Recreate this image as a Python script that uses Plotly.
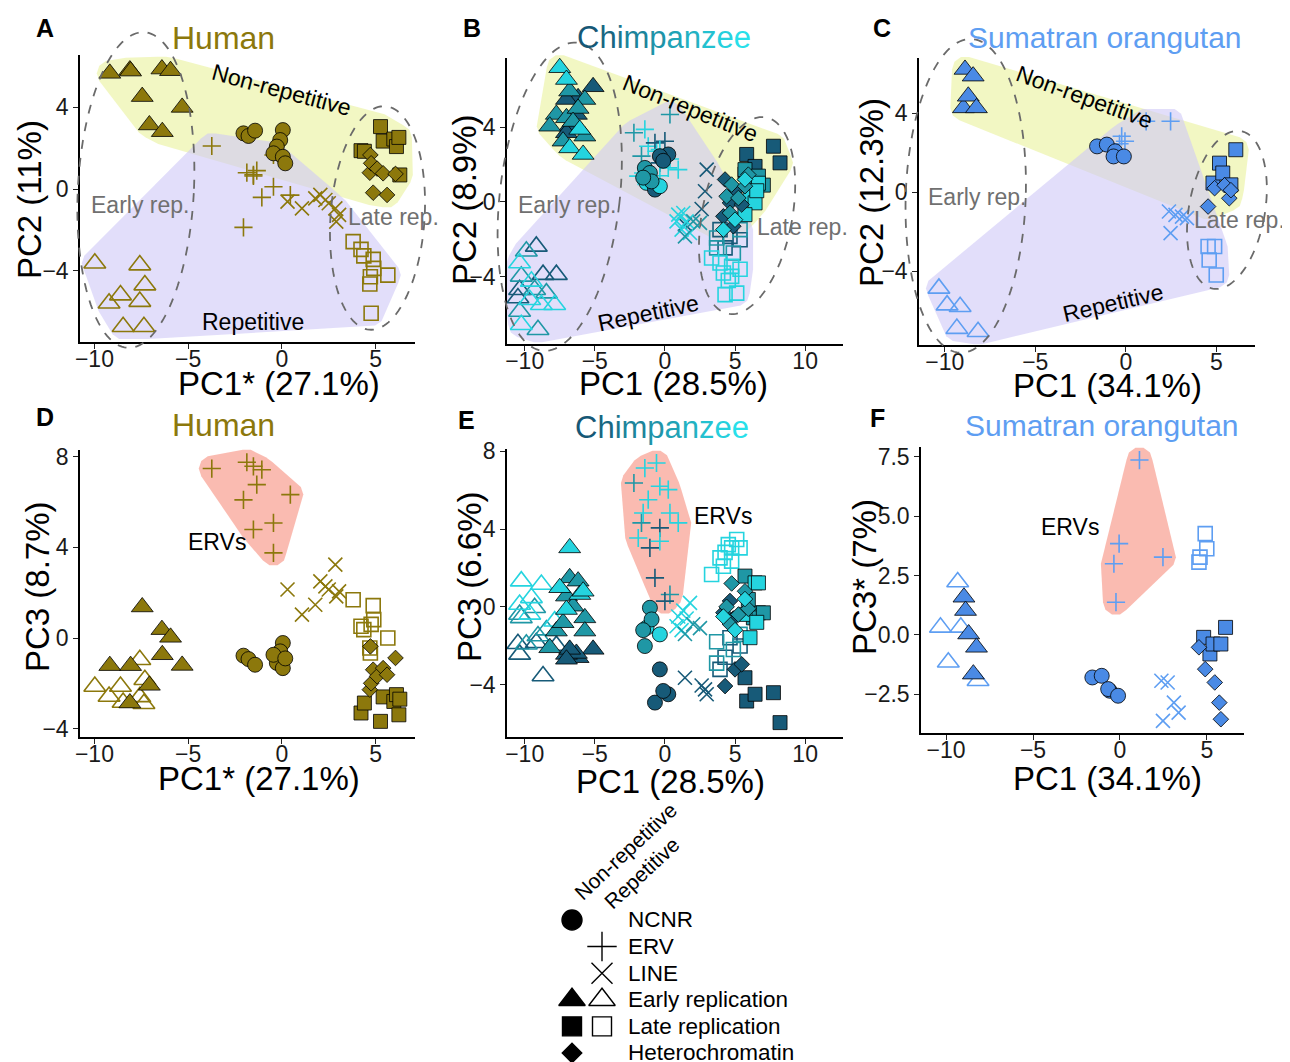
import numpy as np
import plotly.graph_objects as go

W, H = 1290, 1062
OFF = 8  # page body margin: screen px = paper px + 8
FONT = "Liberation Sans, Arial, sans-serif"

# ======================= DATA =======================
# ---- Human (PC1*, PC2, PC3) ----
hum_etri_pc1 = [-9.18, -8.11, -8.07, -7.45, -7.07, -6.40, -6.38, -5.94, -5.32]
hum_etri_pc2 = [5.67, 5.83, 5.78, 4.53, 3.14, 5.88, 2.81, 5.80, 4.00]
hum_etri_pc3 = [-1.22, -2.87, -1.22, 1.37, -2.09, 0.37, -0.74, 0.03, -1.21]
hum_erep_pc1 = [-9.98, -7.58, -7.31, -8.61, -9.22, -7.58, -8.47, -7.36]
hum_erep_pc2 = [-3.64, -3.73, -4.71, -5.20, -5.60, -5.52, -6.75, -6.75]
hum_erep_pc3 = [-2.14, -0.96, -1.84, -2.14, -2.58, -2.60, -2.85, -2.90]
hum_ncnr_pc1 = [-2.05, -1.78, -1.43, 0.05, -0.09, -0.27, -0.45, 0.05, 0.18]
hum_ncnr_pc2 = [2.73, 2.60, 2.86, 2.89, 2.40, 2.08, 1.75, 1.58, 1.26]
hum_ncnr_pc3 = [-0.78, -0.93, -1.18, -0.22, -0.59, -1.10, -0.74, -1.33, -0.90]
hum_erv_pc1 = [-3.74, -2.05, -1.87, -1.52, -1.52, -1.34, -1.07, -0.45, -0.45, 0.45]
hum_erv_pc2 = [2.11, -1.88, 0.80, 0.70, 0.64, 0.90, -0.41, 1.67, 0.11, -0.30]
hum_erv_pc3 = [7.48, 6.10, 7.76, 7.58, 4.79, 6.77, 7.43, 5.08, 3.76, 6.33]
hum_line_pc1 = [0.30, 1.07, 1.78, 2.05, 2.32, 2.50, 2.85, 2.90, 3.05]
hum_line_pc2 = [-0.62, -0.95, -0.46, -0.29, -0.54, -0.70, -0.95, -1.60, -1.27]
hum_line_pc3 = [2.14, 1.03, 1.47, 2.50, 2.28, 2.14, 3.24, 1.84, 2.06]
hum_lnr_pc1 = [4.22, 4.40, 5.26, 5.40, 5.97, 6.11, 6.24, 6.29]
hum_lnr_pc2 = [1.88, 1.85, 3.06, 2.35, 2.45, 2.08, 2.53, 0.69]
hum_lnr_pc3 = [-3.31, -2.87, -3.68, -2.60, -2.80, -2.50, -3.39, -2.70]
hum_het_pc1 = [4.69, 4.72, 4.76, 4.87, 5.08, 5.40, 5.61, 6.06]
hum_het_pc2 = [0.80, 1.67, 1.26, -0.18, 1.00, 0.77, -0.29, 0.74]
hum_het_pc3 = [-2.28, -0.37, -2.00, -1.40, -1.69, -1.33, -1.62, -0.88]
hum_lrep_pc1 = [3.80, 4.22, 4.37, 4.87, 4.90, 4.72, 5.65, 4.69, 4.76]
hum_lrep_pc2 = [-2.58, -2.96, -3.28, -3.45, -3.89, -4.30, -4.22, -4.66, -6.09]
hum_lrep_pc3 = [1.69, 0.52, 0.37, 1.43, 0.81, -0.66, 0.00, -0.44, 0.60]

# ---- Chimpanzee (PC1, PC2, PC3, individual 0/1/2) ----
chi_etri_pc1 = [-5.12, -6.19, -7.02, -6.31, -6.79, -7.02, -6.79, -5.71, -7.74, -7.02, -8.21, -5.71, -7.26, -6.19, -6.55, -7.50, -7.02, -6.07, -6.79, -5.83]
chi_etri_pc2 = [6.16, 5.57, 5.48, 4.68, 4.05, 3.70, 5.93, 5.48, 4.68, 4.50, 4.05, 3.52, 3.25, 5.00, 4.30, 7.18, 6.55, 3.88, 2.89, 2.54]
chi_etri_pc3 = [-2.19, -2.62, -2.45, -2.40, -2.19, -2.70, 1.49, -0.57, -1.25, 0.55, -2.11, -1.25, -0.82, 1.32, 0.03, 0.98, -0.14, 0.63, 3.03, 0.80]
chi_etri_ind = [0, 0, 0, 0, 0, 0, 1, 1, 1, 1, 1, 1, 1, 1, 1, 2, 2, 2, 2, 2]
chi_erep_pc1 = [-9.17, -8.69, -7.74, -10.36, -10.48, -9.88, -10.24, -9.29, -8.45, -10.36, -9.05, -10.36, -9.52, -9.64, -7.86, -8.81, -10.24]
chi_erep_pc2 = [-2.38, -3.89, -3.89, -4.70, -5.14, -2.64, -3.98, -4.70, -4.88, -5.86, -6.84, -3.27, -4.25, -5.23, -5.50, -5.50, -6.57]
chi_erep_pc3 = [-1.85, -3.56, -2.00, -2.45, -1.90, -1.93, -0.57, -0.05, -1.20, -0.40, -1.50, 0.12, 0.46, -0.39, -0.74, 1.15, 1.32]
chi_erep_ind = [0, 0, 0, 0, 0, 1, 1, 1, 1, 1, 1, 2, 2, 2, 2, 2, 2]
chi_ncnr_pc1 = [0.24, -0.36, -1.43, -1.07, -1.31, -0.71, -0.36, -0.95, -1.55, -0.12]
chi_ncnr_pc2 = [2.54, 2.45, 1.82, 1.55, 1.02, 0.66, 0.84, 1.10, 1.30, 2.20]
chi_ncnr_pc3 = [-4.50, -3.22, -2.02, -0.05, -1.08, -4.93, -1.42, -0.65, -1.20, -4.33]
chi_ncnr_ind = [0, 0, 1, 1, 2, 0, 2, 1, 1, 0]
chi_erv_pc1 = [-1.43, -2.21, 0.36, 0.00, -1.19, -0.60, -1.67, -1.55, 0.24, 0.95, -0.36, -1.90, -1.07, -0.71, 0.36, -0.36, -0.36]
chi_erv_pc2 = [3.88, 3.70, 4.68, 3.25, 2.98, 2.71, 2.45, 1.55, 1.82, 1.73, 2.09, 1.38, 1.11, 3.16, 2.30, 1.40, 2.80]
chi_erv_pc3 = [7.14, 6.37, 0.63, 0.29, 5.51, 7.40, 4.32, 4.83, 6.03, 4.32, 4.06, 3.54, 3.03, 1.49, 4.83, 3.37, 6.20]
chi_erv_ind = [2, 1, 1, 0, 2, 2, 1, 2, 2, 2, 0, 2, 0, 0, 2, 2, 2]
chi_line_pc1 = [2.98, 2.86, 2.62, 1.43, 0.95, 1.31, 0.83, 1.55, 1.19, 1.79, 1.43, 2.02, 2.50]
chi_line_pc2 = [1.73, 0.57, -0.38, -1.20, -0.68, -0.59, -1.04, -1.04, -1.48, -1.66, -1.84, -1.04, -1.12]
chi_line_pc3 = [-4.50, -4.25, -4.05, -3.65, -0.50, -0.20, -1.00, -0.60, -1.20, 0.20, -1.40, -0.90, -1.10]
chi_line_ind = [0, 0, 0, 0, 2, 2, 2, 2, 2, 2, 1, 1, 1]
chi_lnr_pc1 = [5.83, 7.74, 8.21, 5.71, 6.43, 5.71, 6.67, 5.95, 6.31, 7.02, 6.07, 6.43, 5.71, 6.67, 6.55]
chi_lnr_pc2 = [2.54, 2.98, 2.09, 1.50, 1.90, 1.73, 1.38, 0.93, 0.20, 0.90, 0.30, -0.05, -0.68, 1.00, 0.60]
chi_lnr_pc3 = [-4.85, -4.42, -5.96, -3.65, -4.50, 1.58, -0.31, 0.38, -0.57, -0.31, -1.59, 1.23, -0.39, 1.23, -0.80]
chi_lnr_ind = [0, 0, 0, 0, 0, 1, 1, 1, 1, 1, 2, 2, 2, 2, 2]
chi_het_pc1 = [4.29, 5.00, 4.64, 5.48, 4.17, 4.88, 4.76, 4.40, 5.24, 5.71, 5.95, 4.64, 4.17, 5.00, 5.71]
chi_het_pc2 = [1.20, 0.57, -0.05, -0.14, -0.77, -1.30, 0.93, 0.30, 0.21, 0.84, 1.46, -0.59, -1.48, -0.95, 1.20]
chi_het_pc3 = [-4.08, -3.22, 0.30, -2.96, -0.30, -0.60, 1.20, 0.00, -0.40, 0.80, -0.10, -0.90, -0.50, -1.20, 0.40]
chi_het_ind = [0, 0, 0, 0, 0, 0, 1, 1, 1, 1, 1, 1, 2, 2, 2]
chi_lrep_pc1 = [3.93, 4.64, 5.36, 4.29, 3.69, 4.88, 5.36, 3.69, 3.33, 3.93, 4.76, 4.17, 4.76, 4.29, 5.12, 4.52, 5.36]
chi_lrep_pc2 = [-1.48, -1.84, -2.02, -2.46, -1.93, -2.73, -1.48, -2.46, -3.00, -3.27, -3.45, -3.80, -3.98, -4.96, -4.88, -4.20, -3.60]
chi_lrep_pc3 = [-3.22, -1.59, -2.02, -2.60, -1.80, -2.20, -1.42, -2.90, 1.66, 2.52, 3.03, 2.09, 2.35, 2.80, 3.46, 3.20, 3.03]
chi_lrep_ind = [0, 0, 0, 0, 1, 1, 1, 1, 2, 2, 2, 2, 2, 2, 2, 2, 2]

# ---- Sumatran orangutan (PC1, PC2, PC3*) ----
ora_etri_pc1 = [-8.97, -8.88, -8.70, -8.43, -8.25]
ora_etri_pc2 = [4.27, 6.22, 4.86, 5.88, 4.27]
ora_etri_pc3 = [1.59, 1.03, 0.04, -1.65, -0.52]
ora_erep_pc1 = [-10.32, -9.87, -9.15, -9.33, -8.16]
ora_erep_pc2 = [-4.88, -5.73, -5.81, -6.92, -7.08]
ora_erep_pc3 = [0.32, -1.15, 0.32, 2.23, -1.93]
ora_ncnr_pc1 = [-1.59, -1.05, -0.59, -0.68, -0.11]
ora_ncnr_pc2 = [2.32, 2.41, 2.07, 1.81, 1.81]
ora_ncnr_pc3 = [-1.79, -1.72, -2.35, -2.28, -2.56]
ora_erv_pc1 = [-0.35, -0.23, -0.05, 1.12, 2.47]
ora_erv_pc2 = [2.45, 2.83, 2.58, 3.59, 3.59]
ora_erv_pc3 = [3.00, 1.38, 3.85, 7.37, 3.28]
ora_line_pc1 = [2.38, 2.74, 3.10, 3.37, 2.47]
ora_line_pc2 = [-0.98, -1.15, -1.24, -1.32, -2.08]
ora_line_pc3 = [-1.93, -2.00, -2.85, -3.27, -3.62]
ora_lnr_pc1 = [4.81, 5.17, 5.35, 5.80, 6.07]
ora_lnr_pc2 = [0.46, 1.47, 0.97, 0.37, 2.15]
ora_lnr_pc3 = [-0.10, -0.80, -0.38, -0.38, 0.32]
ora_het_pc1 = [4.54, 4.90, 5.45, 5.71, 5.80]
ora_het_pc2 = [-0.73, 0.20, 0.35, -0.31, 0.10]
ora_het_pc3 = [-0.52, -1.44, -2.00, -2.85, -3.55]
ora_lrep_pc1 = [4.54, 4.90, 4.60, 4.99]
ora_lrep_pc2 = [-2.76, -2.76, -3.44, -4.20]
ora_lrep_pc3 = [3.07, 4.27, 3.28, 3.63]

# legend
legend_labels = ["NCNR", "ERV", "LINE", "Early replication", "Late replication", "Heterochromatin"]
legend_headers = ["Non-repetitive", "Repetitive"]

# ======================= STYLE / LAYOUT =======================
HUM = "#8C780C"
ORA_FILL = "#4A8AE5"
ORA_LINE = "#5E9EF2"
CHI = ["#175A78", "#1F97A5", "#25D4DF"]
YEL = "rgba(229,239,135,0.5)"
LAV = "rgba(207,200,247,0.6)"
ERVC = "rgba(245,125,105,0.52)"

# panel boxes in screen pixels (left, right), (top, bottom)
P = {
    "A": dict(ax="", xpx=(80, 415), ypx=(55, 342), xr=(-10.77, 7.1), yr=(-7.5, 6.57),
              xt=[-10, -5, 0, 5], yt=[-4, 0, 4]),
    "B": dict(ax="2", xpx=(507, 843), ypx=(58, 344), xr=(-11.26, 12.7), yr=(-7.6, 7.7),
              xt=[-10, -5, 0, 5, 10], yt=[-4, 0, 4]),
    "C": dict(ax="3", xpx=(919, 1255), ypx=(58, 345), xr=(-11.42, 7.13), yr=(-7.75, 6.8),
              xt=[-10, -5, 0, 5], yt=[-4, 0, 4]),
    "D": dict(ax="4", xpx=(80, 415), ypx=(450, 737), xr=(-10.77, 7.1), yr=(-4.37, 8.3),
              xt=[-10, -5, 0, 5], yt=[-4, 0, 4, 8]),
    "E": dict(ax="5", xpx=(507, 843), ypx=(449, 737), xr=(-11.26, 12.7), yr=(-6.7, 8.12),
              xt=[-10, -5, 0, 5, 10], yt=[-4, 0, 4, 8]),
    "F": dict(ax="6", xpx=(921, 1244), ypx=(447, 733), xr=(-11.44, 7.13), yr=(-4.13, 7.92),
              xt=[-10, -5, 0, 5], yt=[-2.5, 0, 2.5, 5, 7.5], yfmt=".1f"),
}


def pxX(xs):
    return (xs - OFF) / W


def pxY(ys):
    return 1 - (ys - OFF) / H


def px_of(p, x, y):
    (x0, x1), (y0, y1) = p["xr"], p["yr"]
    (l, r), (t, b) = p["xpx"], p["ypx"]
    X = l + (np.asarray(x, float) - x0) / (x1 - x0) * (r - l)
    Y = b - (np.asarray(y, float) - y0) / (y1 - y0) * (b - t)
    return X, Y


def to_path(X, Y):
    return "M " + " L ".join(f"{pxX(x):.5f},{pxY(y):.5f}" for x, y in zip(X, Y)) + " Z"


def convex_hull(pts):
    pts = sorted(set(pts))

    def cross(o, a, b):
        return (a[0] - o[0]) * (b[1] - o[1]) - (a[1] - o[1]) * (b[0] - o[0])

    lower, upper = [], []
    for q in pts:
        while len(lower) >= 2 and cross(lower[-2], lower[-1], q) <= 0:
            lower.pop()
        lower.append(q)
    for q in reversed(pts):
        while len(upper) >= 2 and cross(upper[-2], upper[-1], q) <= 0:
            upper.pop()
        upper.append(q)
    return lower[:-1] + upper[:-1]


def hull_shape(p, xs, ys, color, pad=13):
    X, Y = px_of(p, xs, ys)
    ang = np.linspace(0, 2 * np.pi, 10, endpoint=False)
    pts = [(round(float(x + pad * np.cos(a)), 3), round(float(y + pad * np.sin(a)), 3))
           for x, y in zip(X, Y) for a in ang]
    h = convex_hull(pts)
    hx, hy = zip(*h)
    return dict(type="path", xref="paper", yref="paper", path=to_path(hx, hy),
                fillcolor=color, line=dict(width=0), layer="below")


def ellipse_shape(p, cx, cy, a, b, theta):
    X0, Y0 = px_of(p, [cx], [cy])
    t = np.linspace(0, 2 * np.pi, 140)
    u, v = a * np.cos(t), b * np.sin(t)
    th = np.radians(theta)
    X = X0[0] + u * np.cos(th) - v * np.sin(th)
    Y = Y0[0] + u * np.sin(th) + v * np.cos(th)
    return dict(type="path", xref="paper", yref="paper", path=to_path(X, Y),
                line=dict(color="#6a6a6a", width=1.8, dash="dash"),
                fillcolor="rgba(0,0,0,0)", layer="above")


fig = go.Figure()
shapes = []
annotations = []


def paper_text(text, xp, yp, size, color="black", angle=0, bold=False):
    annotations.append(dict(text=f"<b>{text}</b>" if bold else text, x=pxX(xp), y=pxY(yp),
                            xref="paper", yref="paper", xanchor="center", yanchor="middle",
                            showarrow=False, textangle=angle,
                            font=dict(size=size, color=color, family=FONT)))


# key, symbol, filled, size, repetitive?
GROUPS = [
    ("erep", "triangle-up-open", False, 19, True),
    ("lrep", "square-open", False, 14, True),
    ("erv", "cross-thin-open", False, 13, True),
    ("line", "x-thin-open", False, 14, True),
    ("etri", "triangle-up", True, 19, False),
    ("ncnr", "circle", True, 15, False),
    ("lnr", "square", True, 14, False),
    ("het", "diamond", True, 12, False),
]

species = [("hum", "A", "D"), ("chi", "B", "E"), ("ora", "C", "F")]

g = globals()
for sp, top, bot in species:
    nonrep_x, nonrep_y, rep_x, rep_y = [], [], [], []
    for key, sym, filled, size, rep in GROUPS:
        pc1 = g[f"{sp}_{key}_pc1"]
        pc2 = g[f"{sp}_{key}_pc2"]
        pc3 = g[f"{sp}_{key}_pc3"]
        if rep:
            rep_x += pc1
            rep_y += pc2
        else:
            nonrep_x += pc1
            nonrep_y += pc2
        if sp == "chi":
            ind = g[f"chi_{key}_ind"]
            fcol = [CHI[i] for i in ind]
            lcol = fcol
        elif sp == "hum":
            fcol = lcol = HUM
        else:
            fcol, lcol = ORA_FILL, ORA_LINE
        if filled:
            marker = dict(symbol=sym, size=size, color=fcol,
                          line=dict(color="black", width=0.8))
        else:
            marker = dict(symbol=sym, size=size, color=lcol,
                          line=dict(color=lcol, width=1.6))
        for pan, yy in ((top, pc2), (bot, pc3)):
            ax = P[pan]["ax"]
            fig.add_trace(go.Scatter(x=pc1, y=yy, mode="markers", marker=marker,
                                     xaxis="x" + ax, yaxis="y" + ax,
                                     cliponaxis=False, hoverinfo="skip",
                                     showlegend=False))
    shapes.append(hull_shape(P[top], nonrep_x, nonrep_y, YEL))
    shapes.append(hull_shape(P[top], rep_x, rep_y, LAV))
    shapes.append(hull_shape(P[bot], g[f"{sp}_erv_pc1"], g[f"{sp}_erv_pc3"], ERVC))

# dashed replication ellipses (center in data, semi-axes px, tilt deg)
ELL = [
    ("A", -7.79, -0.05, 58, 158, 3), ("A", 5.10, -1.42, 47, 112, 4),
    ("B", -7.50, 0.28, 60, 155, 6.5), ("B", 5.86, -0.73, 45, 100, 11),
    ("C", -8.84, -0.19, 60, 157, 2), ("C", 5.58, -0.90, 38, 80, 10),
]
for pan, cx, cy, a, b, th in ELL:
    shapes.append(ellipse_shape(P[pan], cx, cy, a, b, th))

# in-panel labels
GRAY = "#707070"
LABELS = [
    ("A", "Non-repetitive", 0.0, 4.85, 15, "black"), ("A", "Repetitive", -1.52, -6.52, 0, "black"),
    ("A", "Early rep.", -7.57, -0.78, 0, GRAY), ("A", "Late rep.", 5.96, -1.37, 0, GRAY),
    ("B", "Non-repetitive", 1.79, 5.04, 22, "black"), ("B", "Repetitive", -1.21, -5.92, -12, "black"),
    ("B", "Early rep.", -7.0, -0.14, 0, GRAY), ("B", "Late rep.", 9.79, -1.32, 0, GRAY),
    ("C", "Non-repetitive", -2.27, 4.84, 20, "black"), ("C", "Repetitive", -0.72, -5.63, -13, "black"),
    ("C", "Early rep.", -8.23, -0.24, 0, GRAY), ("C", "Late rep.", 6.30, -1.41, 0, GRAY),
    ("D", "ERVs", -3.46, 4.26, 0, "black"), ("E", "ERVs", 4.14, 4.68, 0, "black"),
    ("F", "ERVs", -2.89, 4.53, 0, "black"),
]
for pan, txt, x, y, ang, col in LABELS:
    ax = P[pan]["ax"]
    annotations.append(dict(text=txt, x=x, y=y, xref="x" + ax, yref="y" + ax,
                            xanchor="center", yanchor="middle",
                            showarrow=False, textangle=ang,
                            font=dict(size=23, color=col, family=FONT)))

c0, c1 = np.array([22, 88, 118]), np.array([40, 224, 234])
chimp_txt = ""
for i, ch in enumerate("Chimpanzee"):
    c = (c0 + (c1 - c0) * i / 9).astype(int)
    chimp_txt += f'<span style="color:rgb({c[0]},{c[1]},{c[2]})">{ch}</span>'

TITLES = [
    ("Human", HUM, 223, 38, 32), (chimp_txt, "#1F97A5", 664, 38, 31),
    ("Sumatran orangutan", "#5E9EF2", 1105, 38, 30),
    ("Human", HUM, 223, 425, 32), (chimp_txt, "#1F97A5", 662, 427, 31),
    ("Sumatran orangutan", "#5E9EF2", 1102, 425, 30),
]
for txt, col, xp, yp, fs in TITLES:
    paper_text(txt, xp, yp, fs, col)

LETTERS = [("A", 45, 28), ("B", 472, 28), ("C", 882, 28), ("D", 45, 417), ("E", 466, 420), ("F", 877, 418)]
for t, xp, yp in LETTERS:
    paper_text(t, xp, yp, 25, bold=True)

AXT = [
    ("PC1* (27.1%)", 279, 384, 0), ("PC2 (11%)", 29, 200, -90),
    ("PC1 (28.5%)", 673, 384, 0), ("PC2 (8.9%)", 464, 200, -90),
    ("PC1 (34.1%)", 1107, 386, 0), ("PC2 (12.3%)", 871, 193, -90),
    ("PC1* (27.1%)", 259, 778, 0), ("PC3 (8.7%)", 37, 587, -90),
    ("PC1 (28.5%)", 670, 781, 0), ("PC3 (6.6%)", 469, 577, -90),
    ("PC1 (34.1%)", 1107, 778, 0), ("PC3* (7%)", 864, 577, -90),
]
for t, xp, yp, ang in AXT:
    paper_text(t, xp, yp, 33, angle=ang)

# axes
layout = dict()
for pan, p in P.items():
    ax = p["ax"]
    (l, r), (t, b) = p["xpx"], p["ypx"]
    common = dict(showline=True, linecolor="black", linewidth=1.5, ticks="outside", ticklen=5,
                  tickwidth=1.3, tickcolor="#222", showgrid=False, zeroline=False,
                  tickfont=dict(size=23, color="#1a1a1a", family=FONT), automargin=False,
                  fixedrange=True)
    layout["xaxis" + ax] = dict(common, domain=[pxX(l), pxX(r)], range=list(p["xr"]),
                                tickvals=p["xt"], anchor="y" + ax, ticklabelstandoff=-9)
    ydict = dict(common, domain=[pxY(b), pxY(t)], range=list(p["yr"]),
                 tickvals=p["yt"], anchor="x" + ax)
    if "yfmt" in p:
        ydict["tickformat"] = p["yfmt"]
    layout["yaxis" + ax] = ydict

# legend panel (axis 7): columns 0 (non-repetitive) / 1 (repetitive), rows 0..5
layout["xaxis7"] = dict(domain=[pxX(560), pxX(800)], range=[-0.4, 7.6], visible=False, fixedrange=True)
layout["yaxis7"] = dict(domain=[pxY(1062), pxY(900)], range=[5.34, -0.75], visible=False, fixedrange=True)

LEG = [
    (0, 0, "circle", 20), (1, 1, "cross-thin-open", 21), (1, 2, "x-thin-open", 21),
    (0, 3, "triangle-up", 23), (1, 3, "triangle-up-open", 23),
    (0, 4, "square", 19), (1, 4, "square-open", 19), (0, 5, "diamond", 15),
]
for col, row, sym, size in LEG:
    fig.add_trace(go.Scatter(x=[col], y=[row], mode="markers", xaxis="x7", yaxis="y7",
                             marker=dict(symbol=sym, size=size, color="black",
                                         line=dict(color="black", width=1.4)),
                             cliponaxis=False, hoverinfo="skip", showlegend=False))
for row, lab in enumerate(legend_labels):
    annotations.append(dict(text=lab, x=1.8, y=row, xref="x7", yref="y7", xanchor="left",
                            yanchor="middle", showarrow=False,
                            font=dict(size=22.5, color="black", family=FONT)))
paper_text(legend_headers[0], 625, 851, 21, angle=-43)
paper_text(legend_headers[1], 641, 873, 21, angle=-43)

fig.update_layout(**layout)
fig.update_layout(width=W, height=H, margin=dict(l=0, r=0, t=0, b=0),
                  paper_bgcolor="white", plot_bgcolor="rgba(0,0,0,0)",
                  shapes=shapes, annotations=annotations, showlegend=False,
                  font=dict(family=FONT))
fig.write_html("out.html")
